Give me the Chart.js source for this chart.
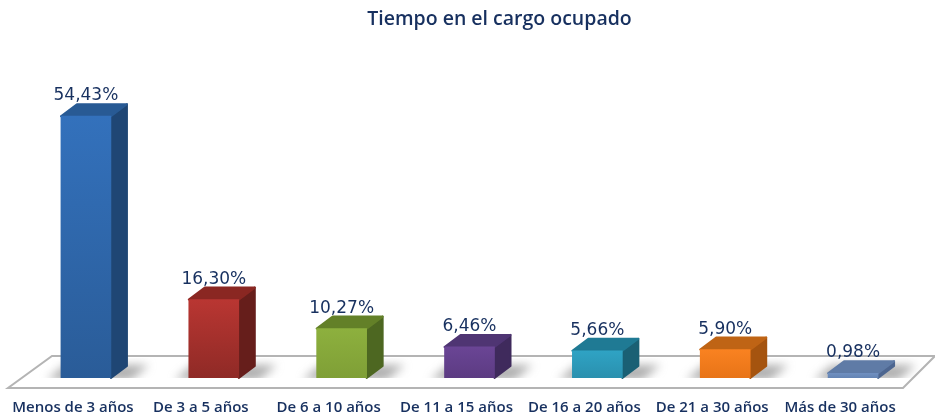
<!DOCTYPE html>
<html>
<head>
<meta charset="utf-8">
<style>
  html, body { margin: 0; padding: 0; background: #fff; }
  #chart { display: block; }
</style>
<script src="https://cdn.jsdelivr.net/npm/chart.js@4/dist/chart.umd.min.js"></script>
</head>
<body>
<canvas id="chart" width="935" height="415"></canvas>
<script>
const categories = ['Menos de 3 años', 'De 3 a 5 años', 'De 6 a 10 años', 'De 11 a 15 años', 'De 16 a 20 años', 'De 21 a 30 años', 'Más de 30 años'];
const values = [54.43, 16.30, 10.27, 6.46, 5.66, 5.90, 0.98];
const frontTop = ['#3371bc', '#b93632', '#8db03e', '#6a4595', '#2fa3c4', '#f98221', '#6f8fc0'];
const frontBottom = ['#2a5c98', '#8f2a26', '#7f9f36', '#5c3b82', '#2a90ae', '#e87417', '#6484b4'];
const sideColors = ['#1f4674', '#661e1b', '#4d6721', '#3f2a5c', '#1a6074', '#a5540f', '#4d6690'];
const topColors = ['#285a94', '#8a2722', '#638028', '#4f3573', '#1f7a94', '#bf6415', '#5f7ba6'];

const navy = '#17305f';
const depthX = 16;
const depthY = 12;

function face(ctx, pts, color) {
  ctx.beginPath();
  pts.forEach((p, i) => i ? ctx.lineTo(p[0], p[1]) : ctx.moveTo(p[0], p[1]));
  ctx.closePath();
  ctx.fillStyle = color;
  ctx.strokeStyle = color;
  ctx.lineJoin = 'round';
  ctx.lineWidth = 2;
  ctx.fill();
  ctx.stroke();
}

// floor, shadows and the side/top faces of the bars, all taken from the bar elements
const box3d = {
  id: 'box3d',
  afterLayout(chart) {
    // title sits right of the canvas centre in the original
    chart.titleBlock.left += 30;
    chart.titleBlock.right += 30;
  },
  beforeDatasetsDraw(chart) {
    const ctx = chart.ctx;
    const area = chart.chartArea;
    const base = chart.scales.y.getPixelForValue(0);

    ctx.save();
    ctx.beginPath();
    ctx.moveTo(area.left - 14, base + 10);
    ctx.lineTo(area.right - 14, base + 10);
    ctx.lineTo(area.right + 18, base - 22);
    ctx.lineTo(area.left + 30, base - 22);
    ctx.closePath();
    ctx.fillStyle = '#ffffff';
    ctx.fill();
    ctx.strokeStyle = '#b4b4b4';
    ctx.lineWidth = 2;
    ctx.stroke();

    const bars = chart.getDatasetMeta(0).data;
    // soft shadow on the floor, cut off along the bars' bottom edge
    ctx.save();
    ctx.beginPath();
    ctx.rect(0, base - 20, chart.width, 20);
    ctx.clip();
    ctx.filter = 'blur(5px)';
    ctx.fillStyle = 'rgba(120,120,120,0.6)';
    bars.forEach((bar) => {
      const left = bar.x - bar.width / 2;
      const right = bar.x + bar.width / 2;
      ctx.beginPath();
      ctx.moveTo(left - 14, base + 2);
      ctx.lineTo(left + 4, base - 13);
      ctx.lineTo(right + depthX + 22, base - 13);
      ctx.lineTo(right + 20, base + 2);
      ctx.closePath();
      ctx.fill();
    });
    ctx.restore();

    bars.forEach((bar, i) => {
      const left = bar.x - bar.width / 2;
      const right = bar.x + bar.width / 2;
      face(ctx, [[right, bar.y], [right + depthX, bar.y - depthY], [right + depthX, base - depthY], [right, base]], sideColors[i]);
      face(ctx, [[left, bar.y], [left + depthX, bar.y - depthY], [right + depthX, bar.y - depthY], [right, bar.y]], topColors[i]);
    });
    ctx.restore();
  },
  afterDatasetsDraw(chart) {
    const ctx = chart.ctx;
    ctx.save();
    ctx.font = '17px "DejaVu Sans"';
    ctx.fillStyle = navy;
    ctx.textAlign = 'center';
    ctx.textBaseline = 'alphabetic';
    chart.getDatasetMeta(0).data.forEach((bar, i) => {
      ctx.fillText(values[i].toFixed(2).replace('.', ',') + '%', bar.x, bar.y - 16);
    });
    ctx.restore();
  }
};

new Chart(document.getElementById('chart'), {
  type: 'bar',
  data: {
    labels: categories,
    datasets: [{
      data: values,
      barThickness: 50,
      borderWidth: 0,
      backgroundColor(c) {
        const y = c.chart.scales && c.chart.scales.y;
        if (!y || c.raw === undefined) return frontTop[c.dataIndex];
        const y0 = y.getPixelForValue(c.raw);
        const y1 = y.getPixelForValue(0);
        // scale has no size yet on the first pass
        if (!isFinite(y0) || !isFinite(y1)) return frontTop[c.dataIndex];
        const g = c.chart.ctx.createLinearGradient(0, y0, 0, y1);
        g.addColorStop(0, frontTop[c.dataIndex]);
        g.addColorStop(1, frontBottom[c.dataIndex]);
        return g;
      }
    }]
  },
  options: {
    responsive: false,
    animation: false,
    layout: { padding: { left: 22, right: 18, top: 0, bottom: 1 } },
    plugins: {
      legend: { display: false },
      tooltip: { enabled: false },
      title: {
        display: true,
        text: 'Tiempo en el cargo ocupado',
        color: navy,
        font: { family: '"Open Sans"', size: 19.5, weight: '600' },
        padding: { top: 8, bottom: 58 }
      }
    },
    scales: {
      x: {
        afterFit(scale) { scale.height = 36; },
        grid: { display: false },
        border: { display: false },
        ticks: {
          color: navy,
          font: { family: '"Open Sans"', size: 15, weight: '600' },
          padding: 13,
          labelOffset: -13,
          maxRotation: 0,
          autoSkip: false
        }
      },
      y: { display: false, min: 0, max: 60 }
    }
  },
  plugins: [box3d]
});
</script>
</body>
</html>
